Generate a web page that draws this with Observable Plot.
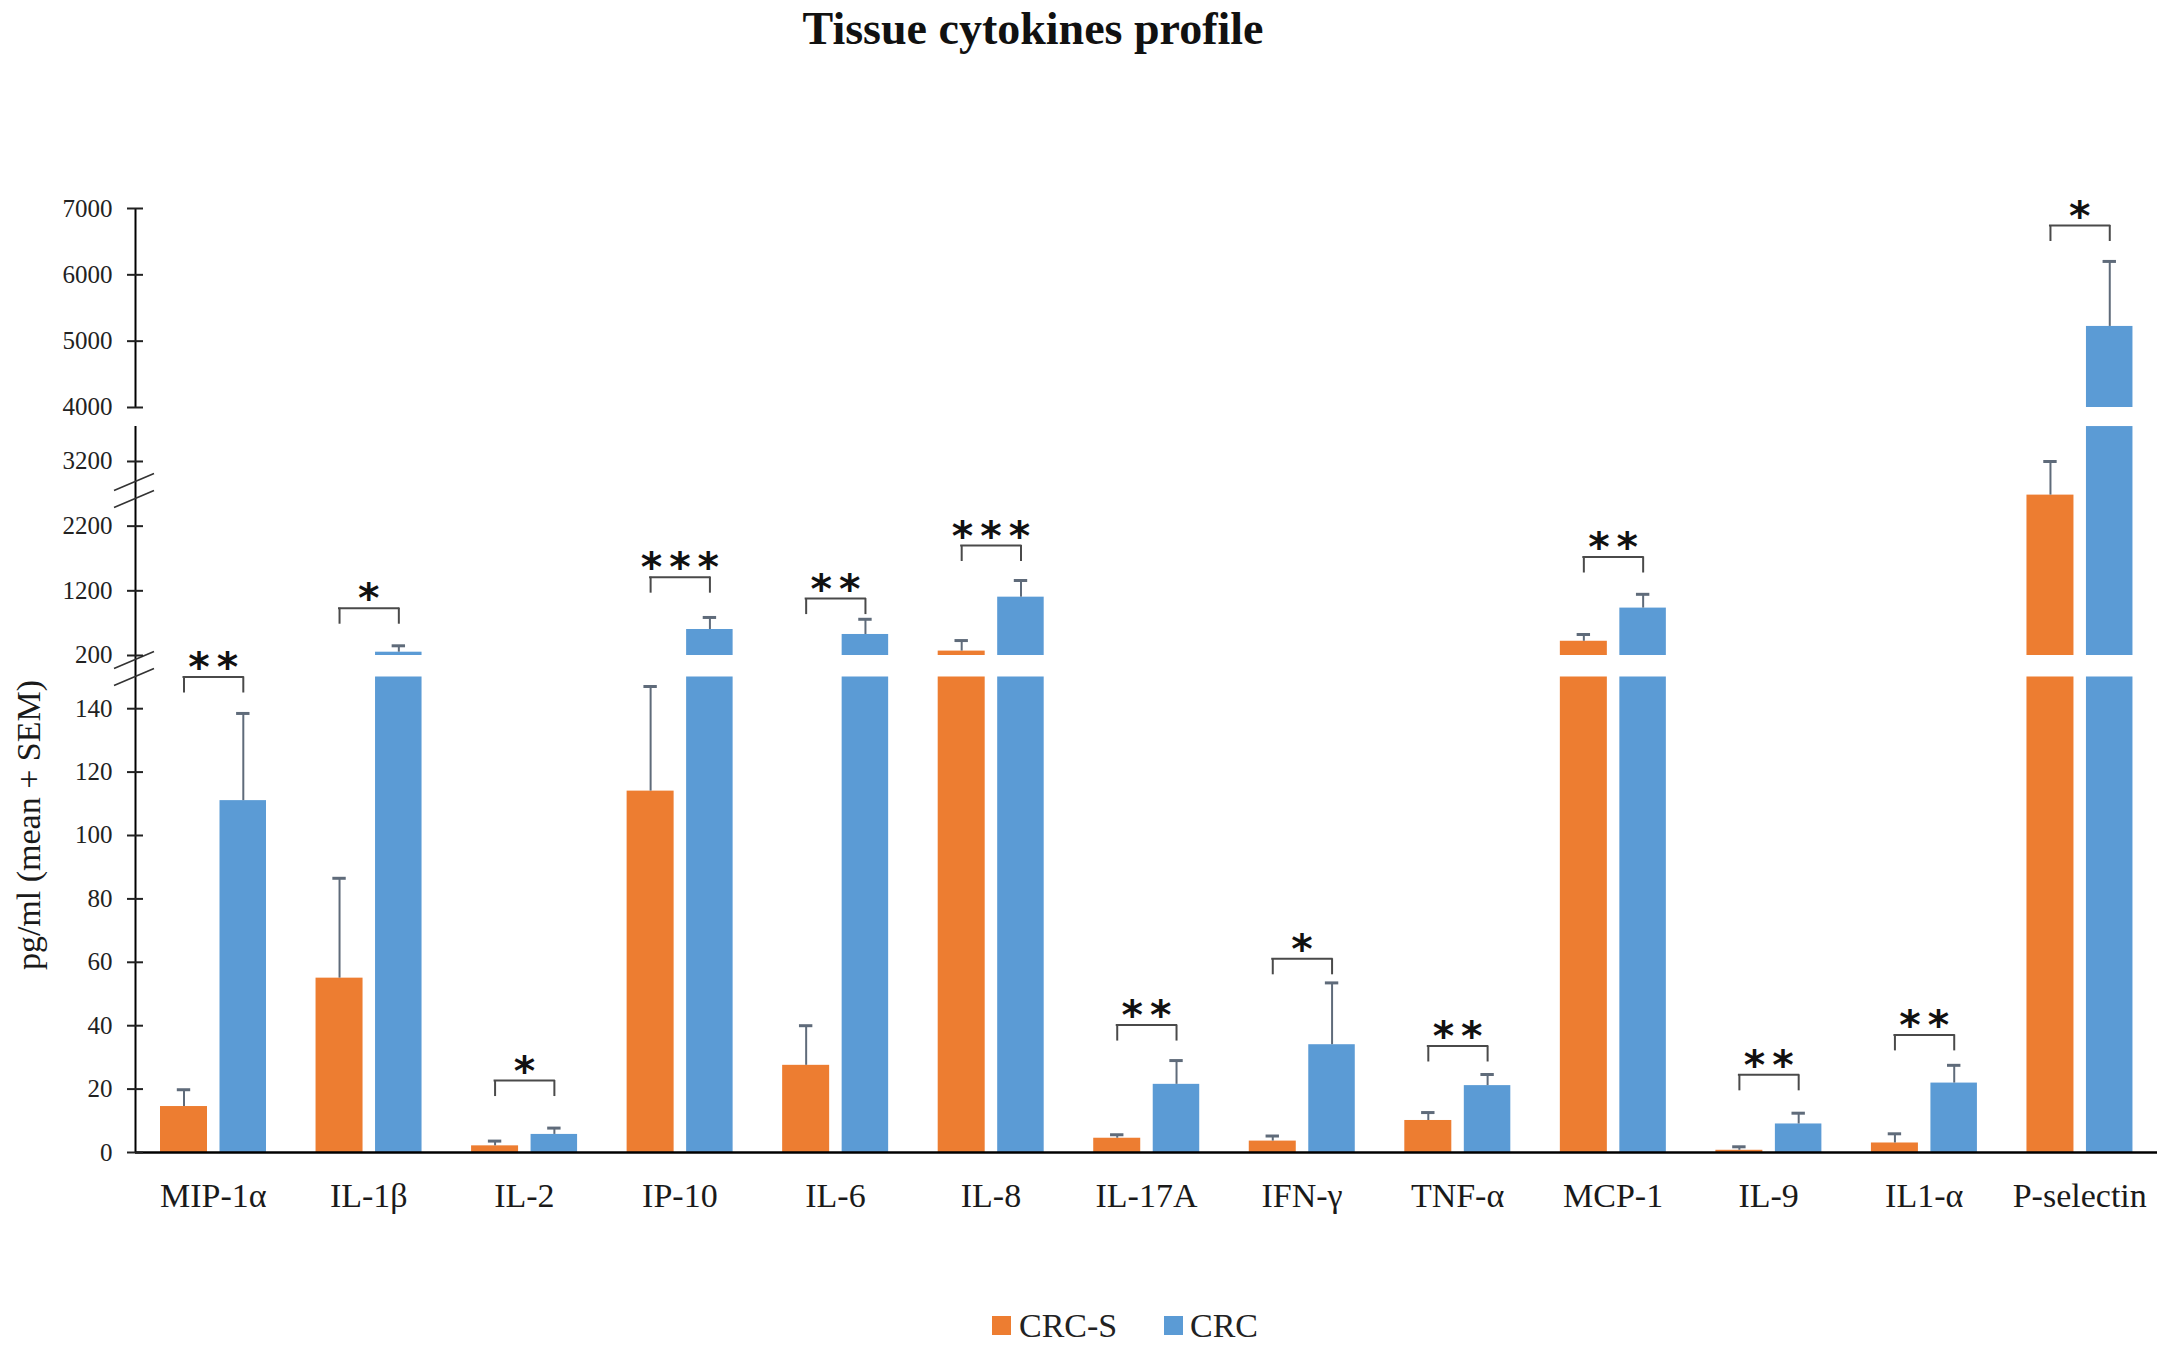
<!DOCTYPE html>
<html><head><meta charset="utf-8">
<script src="https://cdn.jsdelivr.net/npm/d3@7"></script>
<script src="https://cdn.jsdelivr.net/npm/@observablehq/plot@0.6"></script>
<style>
body{margin:0;background:#fff;}
#wrap{position:relative;width:2165px;height:1348px;overflow:hidden;font-family:"Liberation Serif",serif;background:#fff;}
#title{position:absolute;left:0;top:6px;width:2066px;text-align:center;font-weight:bold;font-size:46px;line-height:46px;color:#111;}
#chart{position:absolute;left:0;top:100px;}
#chart svg{display:block;}
#ylabel{position:absolute;left:-171px;top:808px;width:400px;height:34px;line-height:34px;font-size:34px;text-align:center;color:#1a1a1a;transform:rotate(-90deg);transform-origin:50% 50%;white-space:nowrap;}
.leg{position:absolute;font-size:34px;line-height:34px;color:#222;white-space:nowrap;}
.sw{position:absolute;width:19px;height:19px;}
</style></head><body>
<div id="wrap">
<div id="title">Tissue cytokines profile</div>
<div id="chart"></div>
<div id="ylabel"></div>
<div id="legend"></div>
</div>
<script>
// ---- data ----
const categories = ["MIP-1α","IL-1β","IL-2","IP-10","IL-6","IL-8","IL-17A","IFN-γ","TNF-α","MCP-1","IL-9","IL1-α","P-selectin"];
const seriesNames = ["CRC-S","CRC"];
const crcS      = [14.5, 55,  2.1, 114, 27.5, 268, 4.5, 3.6, 10.1, 420, 0.7, 3.0, 2680];
const crcSTop   = [19.8, 86.5, 3.6, 147, 40,  431, 5.6, 5.2, 12.6, 525, 1.8, 5.9, 3200];
const crc       = [111, 251, 5.7, 602, 525, 1102, 21.5, 34, 21.1, 933, 9.0, 21.9, 5222];
const crcTop    = [138.5, 350, 7.7, 788, 760, 1360, 29, 53.5, 24.6, 1146, 12.4, 27.5, 6202];
const sigLabels = ["**","*","*","***","**","***","**","*","**","**","**","**","*"];
const sigLevel  = [150, 931, 22.7, 1411, 1080, 1901, 40.2, 61.1, 33.6, 1723, 24.5, 37.1, 6744];
const tickValues = [0,20,40,60,80,100,120,140,200,1200,2200,3200,4000,5000,6000,7000];
const breakMarks = [170, 2750];
const axisSegments = [[0, 3740], [4000, 7000]];
const yLabel = "pg/ml (mean + SEM)";
const colors = ["#ED7D31", "#5B9BD5"];

// ---- broken-axis mapping (value -> linear position) ----
function f(v){
  if (v <= 150) return v * 3.17;
  if (v <= 200) return 475.5 + (v - 150) / 50 * 21.5;
  if (v <= 3740) return 497 + (v - 200) * 0.06467;
  if (v <= 4000) return 725.9 + (v - 3740) / 260 * 19.1;
  return 745 + (v - 4000) * 0.06633;
}
function segments(v){
  const s = [[0, f(Math.min(v, 150))]];
  if (v > 200) s.push([f(200), f(Math.min(v, 3740))]);
  if (v > 4000) s.push([f(4000), f(v)]);
  return s;
}

const W = 2165, H = 1140, ML = 135, MR = 8, MT = 108, MB = 88;
const bw = (W - ML - MR) / categories.length;

const barRows = (vals) => categories.flatMap((c, i) => segments(vals[i]).map(([a, b]) => ({cat: c, y1: a, y2: b})));
const errRows = (vals, tops) => categories.map((c, i) => ({cat: c, y1: f(vals[i]), y2: f(tops[i])}));
const brRows = categories.map((c, i) => ({cat: c, y: f(sigLevel[i]), sig: sigLabels[i]}));
const axisRows = axisSegments.map(([a, b]) => ({cat: categories[0], y1: f(a), y2: f(b)}));
const breakRows = breakMarks.map(v => ({cat: categories[0], y: f(v)}));
const tickPos = tickValues.map(f);
const tickLabel = new Map(tickPos.map((p, i) => [p, String(tickValues[i])]));

const slash = {draw(ctx){ ctx.moveTo(-21.5, 0); ctx.lineTo(18.5, -17); ctx.moveTo(-21.5, 17); ctx.lineTo(18.5, 0); }};

const oC = 48.5, bC = 107.8; // bar centres within band
const errColor = "#5f6b7a", brColor = "#4a4a4a";
const serif = "Liberation Serif";

const chart = Plot.plot({
  width: W, height: H, marginLeft: ML, marginRight: MR, marginTop: MT, marginBottom: MB,
  x: {type: "band", domain: categories, padding: 0, round: false, label: null},
  y: {domain: [0, f(7000)], label: null},
  style: {fontFamily: serif, background: "white"},
  marks: [
    Plot.barY(barRows(crcS), {x: "cat", y1: "y1", y2: "y2", fill: colors[0], insetLeft: 25, insetRight: bw - 72}),
    Plot.barY(barRows(crc), {x: "cat", y1: "y1", y2: "y2", fill: colors[1], insetLeft: 84.5, insetRight: bw - 131}),
    Plot.ruleX(errRows(crcS, crcSTop), {x: "cat", y1: "y1", y2: "y2", dx: oC - bw/2, stroke: errColor, strokeWidth: 2}),
    Plot.tickY(errRows(crcS, crcSTop), {x: "cat", y: "y2", insetLeft: oC - 6.7, insetRight: bw - oC - 6.7, stroke: errColor, strokeWidth: 3}),
    Plot.ruleX(errRows(crc, crcTop), {x: "cat", y1: "y1", y2: "y2", dx: bC - bw/2, stroke: errColor, strokeWidth: 2}),
    Plot.tickY(errRows(crc, crcTop), {x: "cat", y: "y2", insetLeft: bC - 6.7, insetRight: bw - bC - 6.7, stroke: errColor, strokeWidth: 3}),
    // significance brackets
    Plot.ruleX(brRows, {x: "cat", y1: d => d.y - 16, y2: "y", dx: oC - bw/2, stroke: brColor, strokeWidth: 2}),
    Plot.ruleX(brRows, {x: "cat", y1: d => d.y - 16, y2: "y", dx: bC - bw/2, stroke: brColor, strokeWidth: 2}),
    Plot.tickY(brRows, {x: "cat", y: "y", insetLeft: oC - 1, insetRight: bw - bC - 1, stroke: brColor, strokeWidth: 2}),
    Plot.text(brRows, {x: "cat", y: "y", text: "sig", dy: -9, fontSize: 41, fontWeight: "bold", fontFamily: "DejaVu Sans", fill: "#111"}),
    // axes
    Plot.ruleX(axisRows, {x: "cat", y1: "y1", y2: "y2", dx: -bw/2, stroke: "#000", strokeWidth: 2}),
    Plot.ruleY([0], {stroke: "#000", strokeWidth: 2.5}),
    Plot.dot(breakRows, {x: "cat", y: "y", dx: -bw/2, symbol: slash, r: 5, fill: "none", stroke: "#333", strokeWidth: 1.6}),
    Plot.axisY({ticks: tickPos, tickFormat: t => tickLabel.get(t), tickSize: 16, dx: 8, tickPadding: 15, fontSize: 25, fontFamily: serif, color: "#222", strokeWidth: 2}),
    Plot.axisX({tickSize: 0, tickPadding: 30, fontSize: 34, fontFamily: serif, color: "#1a1a1a"})
  ]
});
document.getElementById("chart").appendChild(chart);
document.getElementById("ylabel").textContent = yLabel;

// star spacing
d3.select(chart).selectAll("text").filter(function(){ return /^\*+$/.test(this.textContent); })
  .attr("letter-spacing", "7px").attr("dx", 3.5);

// legend
const legend = document.getElementById("legend");
const legItems = [{sw: 992, tx: 1019}, {sw: 1164, tx: 1190}];
seriesNames.forEach((name, i) => {
  const s = document.createElement("div");
  s.className = "sw"; s.style.left = legItems[i].sw + "px"; s.style.top = "1316px"; s.style.background = colors[i];
  legend.appendChild(s);
  const t = document.createElement("div");
  t.className = "leg"; t.style.left = legItems[i].tx + "px"; t.style.top = "1309px"; t.textContent = name;
  legend.appendChild(t);
});
</script>
</body></html>
